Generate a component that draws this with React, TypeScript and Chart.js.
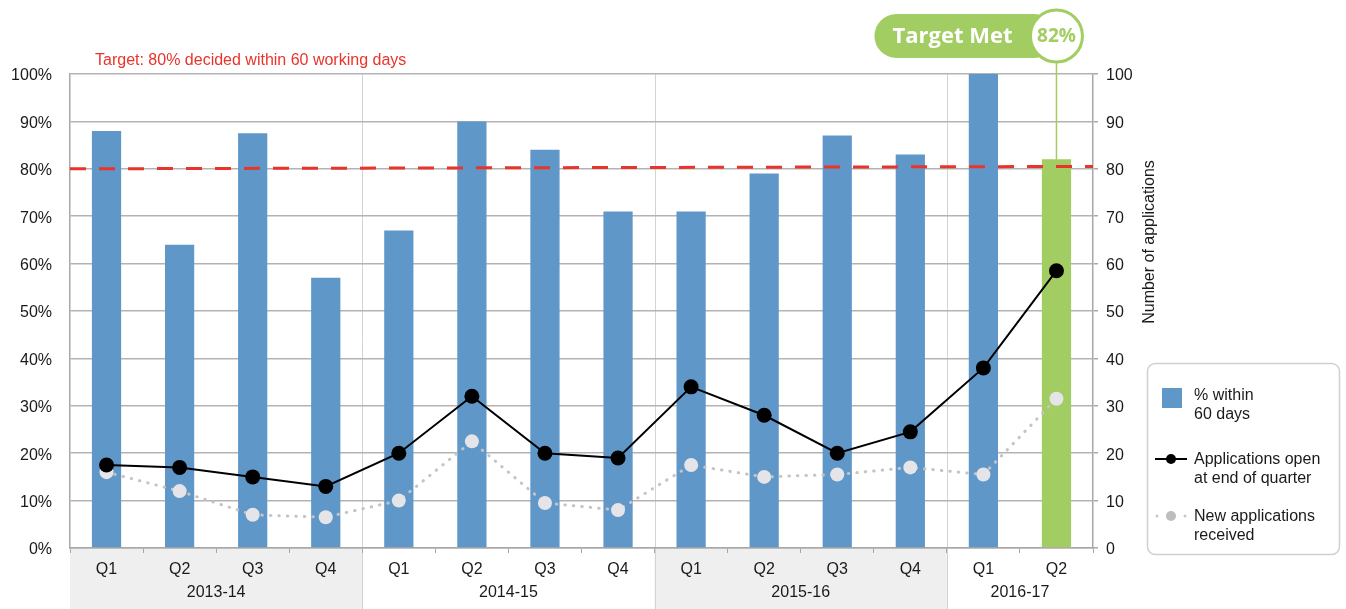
import { useEffect, useRef } from 'react';
import { Chart, registerables } from 'chart.js';

Chart.register(...registerables);

const quarters = ['Q1', 'Q2', 'Q3', 'Q4', 'Q1', 'Q2', 'Q3', 'Q4', 'Q1', 'Q2', 'Q3', 'Q4', 'Q1', 'Q2'];
const years = ['2013-14', '2014-15', '2015-16', '2016-17'];
const yearSpans = [4, 4, 4, 2];
const pctWithin60 = [88, 64, 87.5, 57, 67, 90, 84, 71, 71, 79, 87, 83, 100, 82];
const openAtEnd = [17.5, 17, 15, 13, 20, 32, 20, 19, 34, 28, 20, 24.5, 38, 58.5];
const newReceived = [16, 12, 7, 6.5, 10, 22.5, 9.5, 8, 17.5, 15, 15.5, 17, 15.5, 31.5];
const targetPct = 80;
const targetLineEnd = 80.5;

const FONT = '"Liberation Sans", Arial, sans-serif';
const BLUE = '#6097c9';
const GREEN = '#a2cd62';
const RED = '#e8342b';
const TEXT = '#1a1a1a';
const GRID = '#b3b3b3';

const lastIdx = pctWithin60.length - 1;

const decor = {
  id: 'decor',
  beforeDraw(chart: any) {
    const { ctx, chartArea, scales } = chart;
    const x = scales.x;
    const H = chart.height;
    const w = x.getPixelForValue(1) - x.getPixelForValue(0);
    const bound = (k: number) => x.getPixelForValue(k) - w / 2;
    ctx.save();
    let start = 0;
    yearSpans.forEach((span, i) => {
      const l = bound(start);
      const r = bound(start + span);
      if (i % 2 === 0) {
        ctx.fillStyle = '#efefef';
        ctx.fillRect(l, chartArea.bottom, r - l, H - chartArea.bottom);
      }
      start += span;
    });
    start = 0;
    ctx.strokeStyle = '#d3d3d3';
    ctx.lineWidth = 1;
    yearSpans.slice(0, -1).forEach((span) => {
      start += span;
      const px = Math.round(bound(start)) + 0.5;
      ctx.beginPath();
      ctx.moveTo(px, chartArea.top);
      ctx.lineTo(px, H);
      ctx.stroke();
    });
    ctx.restore();
  },
  afterDatasetsDraw(chart: any) {
    const { ctx, chartArea, scales } = chart;
    const y = scales.y;
    ctx.save();
    ctx.strokeStyle = RED;
    ctx.lineWidth = 3;
    ctx.setLineDash([16, 13]);
    ctx.beginPath();
    ctx.moveTo(chartArea.left, y.getPixelForValue(targetPct));
    ctx.lineTo(chartArea.right, y.getPixelForValue(targetLineEnd));
    ctx.stroke();
    ctx.restore();
  },
  afterDraw(chart: any) {
    const { ctx, scales } = chart;
    const x = scales.x;
    const y = scales.y;
    const w = x.getPixelForValue(1) - x.getPixelForValue(0);
    const bound = (k: number) => x.getPixelForValue(k) - w / 2;
    ctx.save();
    ctx.fillStyle = TEXT;
    ctx.font = `16px ${FONT}`;
    ctx.textAlign = 'center';
    ctx.textBaseline = 'middle';
    let start = 0;
    yearSpans.forEach((span, i) => {
      const cx = (bound(start) + bound(start + span)) / 2;
      ctx.fillText(years[i], cx, 593);
      start += span;
    });

    ctx.fillStyle = RED;
    ctx.font = `16px ${FONT}`;
    ctx.textAlign = 'left';
    ctx.fillText(`Target: ${targetPct}% decided within 60 working days`, 95, 61);

    ctx.save();
    ctx.translate(1150, 242);
    ctx.rotate(-Math.PI / 2);
    ctx.fillStyle = TEXT;
    ctx.font = `16px ${FONT}`;
    ctx.textAlign = 'center';
    ctx.fillText('Number of applications', 0, 0);
    ctx.restore();

    ctx.beginPath();
    ctx.roundRect(1147.5, 363.5, 192, 191, 8);
    ctx.fillStyle = '#ffffff';
    ctx.fill();
    ctx.strokeStyle = '#d0d0d0';
    ctx.lineWidth = 1.5;
    ctx.stroke();

    ctx.fillStyle = BLUE;
    ctx.fillRect(1162, 388, 20, 20);

    ctx.strokeStyle = '#000';
    ctx.lineWidth = 2;
    ctx.beginPath();
    ctx.moveTo(1155, 459);
    ctx.lineTo(1187, 459);
    ctx.stroke();
    ctx.fillStyle = '#000';
    ctx.beginPath();
    ctx.arc(1171, 459, 5, 0, Math.PI * 2);
    ctx.fill();

    ctx.fillStyle = '#c8c8c8';
    [1157, 1185].forEach((dx) => {
      ctx.beginPath();
      ctx.arc(dx, 516, 1.5, 0, Math.PI * 2);
      ctx.fill();
    });
    ctx.fillStyle = '#bdbdbd';
    ctx.beginPath();
    ctx.arc(1171, 516, 5, 0, Math.PI * 2);
    ctx.fill();

    ctx.fillStyle = TEXT;
    ctx.font = `16px ${FONT}`;
    ctx.textAlign = 'left';
    ctx.textBaseline = 'middle';
    ctx.fillText('% within', 1194, 396);
    ctx.fillText('60 days', 1194, 415);
    ctx.fillText('Applications open', 1194, 460);
    ctx.fillText('at end of quarter', 1194, 479);
    ctx.fillText('New applications', 1194, 517);
    ctx.fillText('received', 1194, 536);

    const bx = x.getPixelForValue(lastIdx);
    const cy = 36;
    const r = 26;
    ctx.fillStyle = GREEN;
    ctx.beginPath();
    ctx.roundRect(bx - 182, 14, 182, 44, 22);
    ctx.fill();
    ctx.strokeStyle = GREEN;
    ctx.lineWidth = 1.5;
    ctx.beginPath();
    ctx.moveTo(bx, cy + r);
    ctx.lineTo(bx, y.getPixelForValue(pctWithin60[lastIdx]));
    ctx.stroke();
    ctx.beginPath();
    ctx.arc(bx, cy, r, 0, Math.PI * 2);
    ctx.fillStyle = '#ffffff';
    ctx.fill();
    ctx.lineWidth = 3;
    ctx.stroke();

    ctx.fillStyle = '#ffffff';
    ctx.font = `bold 22px "Open Sans", ${FONT}`;
    ctx.textAlign = 'center';
    ctx.fillText('Target Met', bx - 104, cy + 1);
    ctx.fillStyle = GREEN;
    ctx.font = `bold 19px "Open Sans", ${FONT}`;
    ctx.fillText(`${pctWithin60[lastIdx]}%`, bx, cy + 1);
    ctx.restore();
  },
};

export default function App() {
  const ref = useRef<HTMLCanvasElement>(null);
  useEffect(() => {
    document.body.style.margin = '0';
    const chart = new Chart(ref.current as HTMLCanvasElement, {
      type: 'bar',
      data: {
        labels: quarters,
        datasets: [
          {
            type: 'line',
            label: 'Applications open at end of quarter',
            data: openAtEnd,
            yAxisID: 'y1',
            borderColor: '#000',
            borderWidth: 2,
            pointBackgroundColor: '#000',
            pointBorderWidth: 0,
            pointRadius: 7.5,
            order: 1,
          },
          {
            type: 'line',
            label: 'New applications received',
            data: newReceived,
            yAxisID: 'y1',
            borderColor: '#c4c4c4',
            borderWidth: 3,
            borderDash: [0.5, 8],
            borderCapStyle: 'round',
            pointBackgroundColor: '#e5e5e9',
            pointBorderWidth: 0,
            pointRadius: 7,
            order: 2,
          },
          {
            type: 'bar',
            label: '% within 60 days',
            data: pctWithin60,
            yAxisID: 'y',
            backgroundColor: pctWithin60.map((_, i) => (i === lastIdx ? GREEN : BLUE)),
            barPercentage: 0.4,
            categoryPercentage: 1,
            order: 3,
          },
        ],
      } as any,
      options: {
        responsive: false,
        devicePixelRatio: 1,
        animation: false,
        layout: { padding: { top: 74, left: 0, right: 0, bottom: 0 } },
        plugins: { legend: { display: false }, tooltip: { enabled: false } },
        scales: {
          x: {
            offset: true,
            grid: { display: true, drawOnChartArea: false, drawTicks: true, tickLength: 5, color: '#a8a8a8', offset: true },
            border: { display: true, color: '#a8a8a8', width: 1.5 },
            ticks: { color: TEXT, font: { family: FONT, size: 16 }, padding: 7, maxRotation: 0, autoSkip: false },
            afterFit: (s: any) => {
              s.height = 61;
            },
          },
          y: {
            position: 'left',
            min: 0,
            max: 100,
            grid: { color: GRID, lineWidth: 1.5, drawTicks: false },
            border: { display: true, color: '#a8a8a8', width: 1.5 },
            ticks: { stepSize: 10, color: TEXT, font: { family: FONT, size: 16 }, padding: 18, labelOffset: 2, callback: (v: any) => `${v}%` },
            afterFit: (s: any) => {
              s.width = 70;
            },
          },
          y1: {
            position: 'right',
            min: 0,
            max: 100,
            grid: { drawOnChartArea: false, drawTicks: true, tickLength: 5, color: '#a8a8a8', lineWidth: 1.5 },
            border: { display: true, color: '#a8a8a8', width: 1.5 },
            ticks: { stepSize: 10, color: TEXT, font: { family: FONT, size: 16 }, padding: 8, labelOffset: 2 },
            afterFit: (s: any) => {
              s.width = 253;
            },
          },
        },
      } as any,
      plugins: [decor],
    });
    return () => chart.destroy();
  }, []);
  return (
    <div style={{ width: 1346, height: 609, position: 'relative' }}>
      <canvas ref={ref} width={1346} height={609} style={{ display: 'block' }} />
    </div>
  );
}
